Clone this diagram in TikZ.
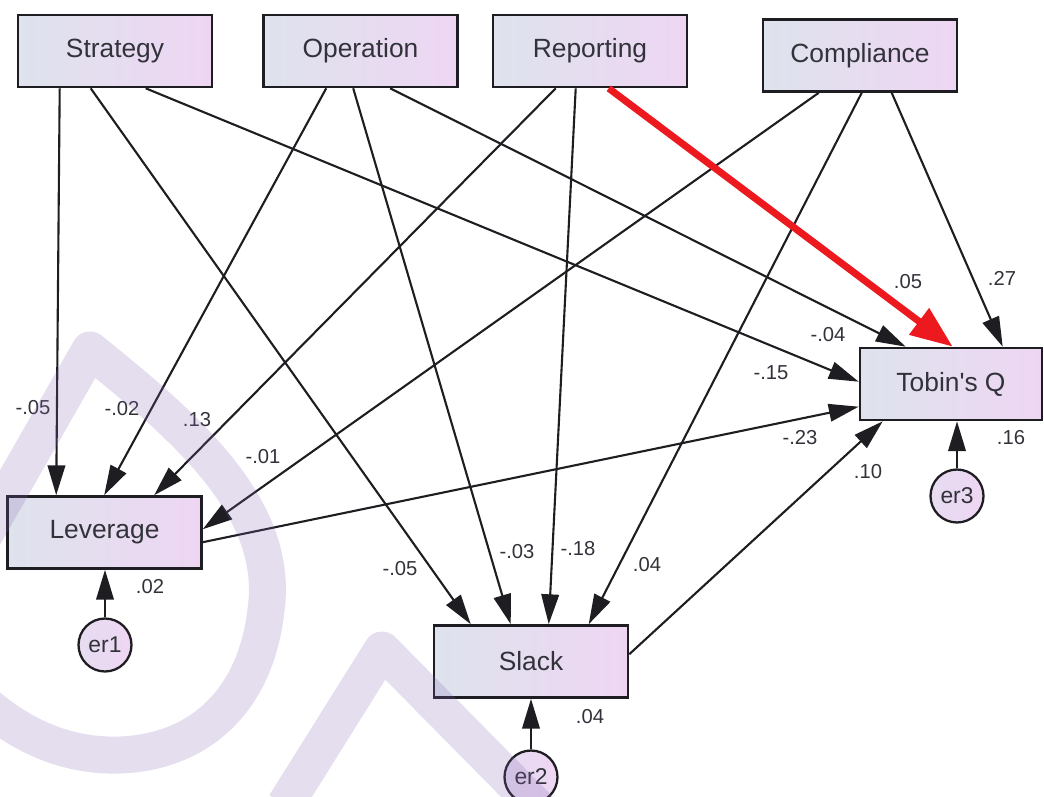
\documentclass[tikz,border=0pt]{standalone}
\usepackage{fontspec}
\setmainfont{Liberation Sans}[Ligatures=TeXOff]
\usepackage{xcolor}
\usetikzlibrary{arrows.meta,calc,positioning}

\definecolor{boxleft}{RGB}{222,227,237}
\definecolor{boxright}{RGB}{238,214,243}
\definecolor{edgegray}{RGB}{30,30,34}
\definecolor{txtgray}{RGB}{50,50,58}
\definecolor{wmark}{RGB}{131,99,179}
\definecolor{hotred}{RGB}{236,26,30}

\begin{document}
\begin{tikzpicture}[x=0.02cm, y=-0.02cm,
  var/.style={draw=edgegray, line width=1.5pt, left color=boxleft, right color=boxright,
    minimum width=3.88cm, minimum height=1.44cm, inner sep=0pt, text=txtgray,
    font=\fontsize{15}{17}\selectfont},
  err/.style={circle, draw=edgegray, line width=1.3pt, left color=boxleft!50!boxright,
    right color=boxright, minimum size=1.06cm, inner sep=0pt, text=txtgray,
    font=\fontsize{13}{15}\selectfont},
  link/.style={draw=edgegray, line width=1.2pt, -{Triangle[length=17pt,width=10pt]}},
  coef/.style={text=txtgray, font=\fontsize{11.5}{13}\selectfont, inner sep=1pt},
  wm/.style={draw=wmark, draw opacity=0.21, line width=0.74cm, line join=round}]
  \useasboundingbox (0,0) rectangle (1044,797);

  % observed variables
  \node[var] (strat) at (115,51) {Strategy};
  \node[var] (oper) at (360.5,51) {Operation};
  \node[var] (rep) at (590,51) {Reporting};
  \node[var] (comp) at (860,55.5) {Compliance};
  \node[var] (lev) at (104.5,532.5) {Leverage};
  \node[var] (slack) at (531,661.5) {Slack};
  \node[var, minimum width=3.64cm] (tobin) at (951,384) {Tobin's Q};

  % error terms
  \node[err] (er1) at (105,645) {er1};
  \node[err] (er2) at (531,777) {er2};
  \node[err] (er3) at (957,496) {er3};

  % paths to Leverage
  \draw[link] ($(strat.south west)+(43,0)$) -- ($(lev.north west)+(50,0)$);
  \draw[link] ($(oper.south west)+(64,0)$) -- ($(lev.north west)+(98,0)$);
  \draw[link] ($(rep.south west)+(64,0)$) -- ($(lev.north west)+(148,0)$);
  \draw[link] ($(comp.south west)+(57,0)$) -- ($(lev.north east)+(0,34)$);

  % paths to Slack
  \draw[link] ($(strat.south west)+(74,0)$) -- ($(slack.north west)+(38,0)$);
  \draw[link] ($(oper.south west)+(91,0)$) -- ($(slack.north west)+(78,0)$);
  \draw[link] ($(rep.south west)+(84,0)$) -- ($(slack.north west)+(116,0)$);
  \draw[link] ($(comp.south west)+(100,0)$) -- ($(slack.north west)+(156,0)$);

  % paths to Tobin's Q
  \draw[link] ($(strat.south west)+(129,0)$) -- ($(tobin.north west)+(0,35)$);
  \draw[link] ($(oper.south west)+(128,0)$) -- ($(tobin.north west)+(47,0)$);
  \draw[draw=hotred, line width=4pt, -{Triangle[length=24pt,width=18pt]}]
    ($(rep.south west)+(117,0)$) -- ($(tobin.north west)+(94,0)$);
  \draw[link] ($(comp.south west)+(130,0)$) -- ($(tobin.north west)+(144,0)$);
  \draw[link] ($(lev.north east)+(0,47)$) -- ($(tobin.north west)+(0,60)$);
  \draw[link] ($(slack.north east)+(0,30)$) -- ($(tobin.south west)+(24,0)$);

  % error arrows
  \draw[link] (er1.north) -- (er1.north |- lev.south);
  \draw[link] (er2.north) -- (er2.north |- slack.south);
  \draw[link] (er3.north) -- (er3.north |- tobin.south);

  % coefficients
  \node[coef] (k1) at (33,408) {-.05};
  \node[coef] (k2) at (122,409) {-.02};
  \node[coef] (k3) at (197,420) {.13};
  \node[coef] (k4) at (263,457) {-.01};
  \node[coef] (k5) at (150,587) {.02};
  \node[coef] (k6) at (400,569) {-.05};
  \node[coef] (k7) at (517,552) {-.03};
  \node[coef] (k8) at (578,549) {-.18};
  \node[coef] (k9) at (647,565) {.04};
  \node[coef] (k10) at (590,717) {.04};
  \node[coef] (k11) at (908,282) {.05};
  \node[coef] (k12) at (1002,278) {.27};
  \node[coef] (k13) at (828,335) {-.04};
  \node[coef] (k14) at (771,373) {-.15};
  \node[coef] (k15) at (800,438) {-.23};
  \node[coef] (k16) at (868,472) {.10};
  \node[coef] (k17) at (1011,438) {.16};

  % watermark
  \begin{scope}
    \clip (0,0) rectangle (1044,797);
    \draw[wm] (-30,560) -- (90,350) .. controls (190,430) and (280,510) .. (266,610)
      .. controls (256,700) and (200,752) .. (120,755) .. controls (60,757) and (10,730) .. (-30,690);
    \draw[wm] (285,805) -- (382,650) -- (540,810);
  \end{scope}
\end{tikzpicture}
\end{document}
